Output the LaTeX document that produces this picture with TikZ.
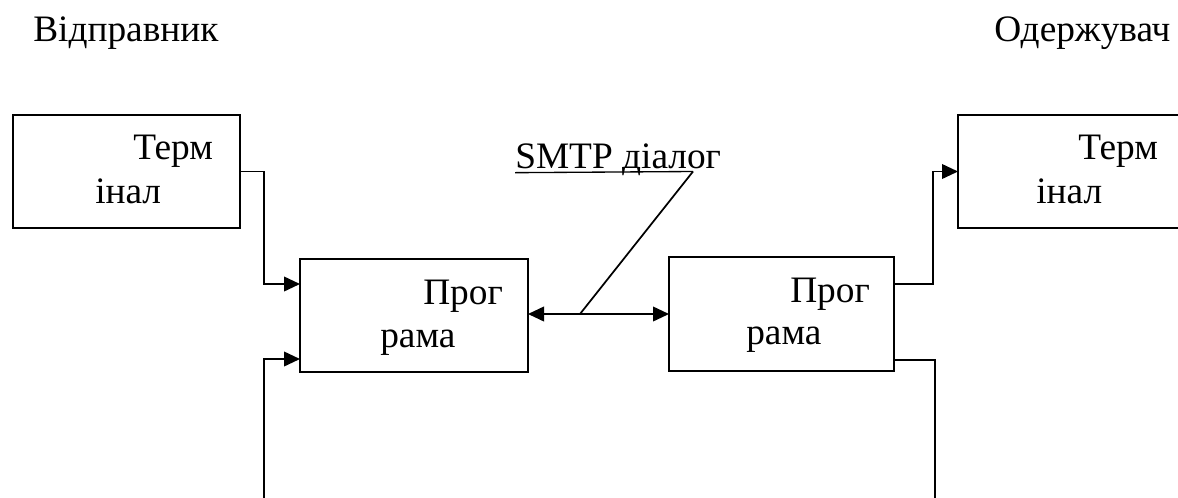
\documentclass[tikz,border=0pt]{standalone}
\usepackage{fontspec}
\setmainfont{Liberation Serif}
\usetikzlibrary{arrows.meta}
\begin{document}
\begin{tikzpicture}[x=0.75pt,y=-0.75pt,
  box/.style={draw, line width=1.4pt, inner sep=0pt, outer sep=0pt, anchor=north west},
  txt/.style={inner sep=0pt, anchor=base west, font=\fontsize{28}{33}\selectfont},
  wire/.style={line width=1.3pt},
  tip/.style={Triangle[length=12pt,width=11pt]},
  arr/.style={wire, -{Triangle[length=12pt,width=11pt]}},
  dblarr/.style={wire, {Triangle[length=12pt,width=11pt]}-{Triangle[length=12pt,width=11pt]}}]
  \clip (0,0) rectangle (1178,497);
  \useasboundingbox (0,0) rectangle (1178,497);

  % headings
  \node[txt] (snd) at (33,41) {Відправник};
  \node[txt] (rcv) at (994,41) {Одержувач};

  % boxes
  \node[box, minimum width={227*0.75pt}, minimum height={113*0.75pt}] (LT) at (13,115) {};
  \node[box, minimum width={260*0.75pt}, minimum height={113*0.75pt}] (RT) at (958,115) {};
  \node[box, minimum width={228*0.75pt}, minimum height={113*0.75pt}] (LP) at (300,259) {};
  \node[box, minimum width={225*0.75pt}, minimum height={114*0.75pt}] (RP) at (669,257) {};

  % box captions
  \node[txt] (lt1) at (133,159) {Терм};
  \node[txt] (lt2) at (95,203) {інал};
  \node[txt] (rt1) at (1078,159) {Терм};
  \node[txt] (rt2) at (1036,203) {інал};
  \node[txt] (lp1) at (423,304) {Прог};
  \node[txt] (lp2) at (380,347) {рама};
  \node[txt] (rp1) at (790,302) {Прог};
  \node[txt] (rp2) at (746,344) {рама};

  % sender side connectors
  \coordinate (k1) at (264,284);
  \draw[arr] (LT.east) -| (k1) -- (k1 -| LP.west);
  \coordinate (k2) at (264,500);
  \coordinate (k3) at (264,359);
  \draw[arr] (k2) -- (k3) -- (k3 -| LP.west);

  % receiver side connectors
  \coordinate (r1) at (933,284);
  \draw[arr] (r1 -| RP.east) -- (r1) |- (RT.west);
  \coordinate (r2) at (935,360);
  \coordinate (r3) at (935,500);
  \draw[wire] (r2 -| RP.east) -- (r2) -- (r3);

  % SMTP dialogue
  \draw[dblarr] (LP.east |- RP.west) -- (RP.west);
  \node[txt] (smtp) at (515,168) {SMTP діалог};
  \coordinate (s0) at (580,314);
  \coordinate (s1) at (693,171.5);
  \draw[wire] (s0) -- (s1);
  \draw[line width=1pt] ([yshift=-3.5pt]smtp.base west) -- (s1);
\end{tikzpicture}
\end{document}
